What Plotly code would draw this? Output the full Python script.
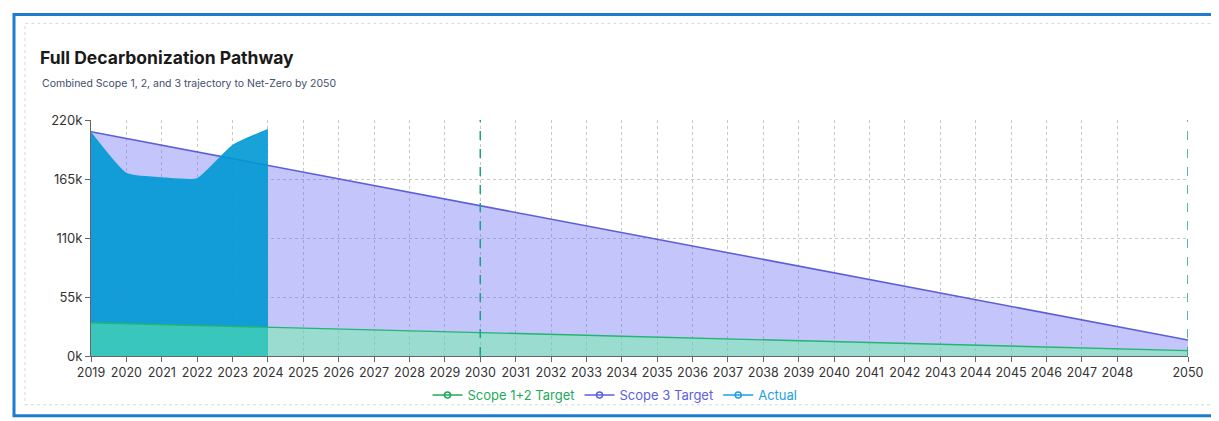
import plotly.graph_objects as go

# ---------------- data ----------------
years = [2019, 2020, 2021, 2022, 2023, 2024, 2025, 2026, 2027, 2028, 2029, 2030,
         2031, 2032, 2033, 2034, 2035, 2036, 2037, 2038, 2039, 2040, 2041, 2042,
         2043, 2044, 2045, 2046, 2047, 2048, 2050]
scope12_target = [31000, 30200, 29300, 28500, 27600, 26800, 26000, 25100, 24300, 23500,
                  22600, 21800, 20900, 20100, 19300, 18400, 17600, 16800, 15900, 15100,
                  14200, 13400, 12600, 11700, 10900, 10100, 9200, 8400, 7500, 6700, 5000]
scope3_target = [209000, 202700, 196500, 190200, 183900, 177700, 171400, 165100, 158900,
                 152600, 146400, 140100, 133800, 127600, 121300, 115000, 108800, 102500,
                 96300, 90000, 83700, 77500, 71200, 64900, 58700, 52400, 46200, 39900,
                 33600, 27400, 14900]
actual_years = [2019, 2020, 2021, 2022, 2023, 2024]
actual = [208000, 170000, 166000, 165000, 196000, 211000]
milestone_years = [2030, 2050]
x_ticks = years
y_ticks = [0, 55000, 110000, 165000, 220000]
y_tick_labels = ["0k", "55k", "110k", "165k", "220k"]

GREEN = "#22b573"
PURPLE = "#5b5fd8"
FONT = "Inter, Roboto, sans-serif"

fig = go.Figure()

# Scope 3 target area
fig.add_trace(go.Scatter(
    x=years, y=scope3_target, mode="lines", fill="tozeroy",
    fillcolor="rgba(99,102,241,0.38)", line=dict(color=PURPLE, width=1.6),
    showlegend=False, hoverinfo="skip"))
# Actual area
fig.add_trace(go.Scatter(
    x=actual_years, y=actual, mode="lines", fill="tozeroy",
    fillcolor="rgba(0,152,212,0.9)", line=dict(color="#0c9fd8", width=1.5, shape="spline", smoothing=0.5),
    showlegend=False, hoverinfo="skip"))
# Scope 1+2 target area
fig.add_trace(go.Scatter(
    x=years, y=scope12_target, mode="lines", fill="tozeroy",
    fillcolor="rgba(105,248,155,0.45)", line=dict(color=GREEN, width=1.4),
    showlegend=False, hoverinfo="skip"))

# legend entries
for name, col in [("Scope 1+2 Target", "#1faa5a"), ("Scope 3 Target", "#5b5fe0"), ("Actual", "#1ba0e0")]:
    fig.add_trace(go.Scatter(
        x=[None], y=[None], mode="lines+markers",
        name=f"<span style='color:{col}'>{name}</span>",
        line=dict(color=col, width=1.5),
        marker=dict(symbol="circle-open", size=6, color=col, line=dict(width=1.5))))

for yr in milestone_years:
    fig.add_vline(x=yr, line=dict(color="#17a386", width=1.5, dash="dash"), layer="above")

# plot area in page pixels (page has an 8px body margin)
W, H = 1211, 413
L, R, T, B = 83, 1180, 112, 349
px = lambda v: (v - L) / (R - L)
py = lambda v: (B - v) / (B - T)

# decorative frame (photo border + card)
fig.add_shape(type="rect", xref="paper", yref="paper", x0=px(6), x1=px(1225), y0=py(409), y1=py(6),
              line=dict(color="#1f7bd0", width=3), layer="below")
fig.add_shape(type="rect", xref="paper", yref="paper", x0=px(17), x1=px(1205), y0=py(398), y1=py(15),
              line=dict(color="#d4d9e0", width=1, dash="dot"), layer="below")

fig.add_annotation(text="<b>Full Decarbonization Pathway</b>", xref="paper", yref="paper",
                   x=px(30), y=py(49), xanchor="left", yanchor="middle", showarrow=False,
                   font=dict(family=FONT, size=17.5, color="#1a1a1a"))
fig.add_annotation(text="Combined Scope 1, 2, and 3 trajectory to Net-Zero by 2050", xref="paper", yref="paper",
                   x=px(32), y=py(75), xanchor="left", yanchor="middle", showarrow=False,
                   font=dict(family=FONT, size=10.5, color="#3f4f6e"))

fig.update_layout(
    width=W, height=H,
    margin=dict(l=L, r=W - R, t=T, b=H - B),
    paper_bgcolor="white", plot_bgcolor="white",
    font=dict(family=FONT, size=12, color="#333"),
    legend=dict(orientation="h", x=px(607), xanchor="center", y=py(387), yanchor="middle",
                font=dict(size=13), itemwidth=30, tracegroupgap=0, bgcolor="rgba(0,0,0,0)"),
    xaxis=dict(range=[2019, 2050], tickvals=x_ticks, ticktext=[str(v) for v in x_ticks],
               showgrid=True, gridcolor="#c8c8c8", griddash="dot", gridwidth=1,
               showline=True, linecolor="#666", ticks="outside", ticklen=5, tickcolor="#666",
               tickfont=dict(size=12.5, color="#333"), zeroline=False, fixedrange=True),
    yaxis=dict(range=[0, 220000], tickvals=y_ticks, ticktext=y_tick_labels,
               showgrid=True, gridcolor="#c8c8c8", griddash="dot", gridwidth=1,
               showline=True, linecolor="#666", ticks="outside", ticklen=5, tickcolor="#666",
               tickfont=dict(size=13, color="#333"), zeroline=False, fixedrange=True),
)

fig.write_html("out.html")
